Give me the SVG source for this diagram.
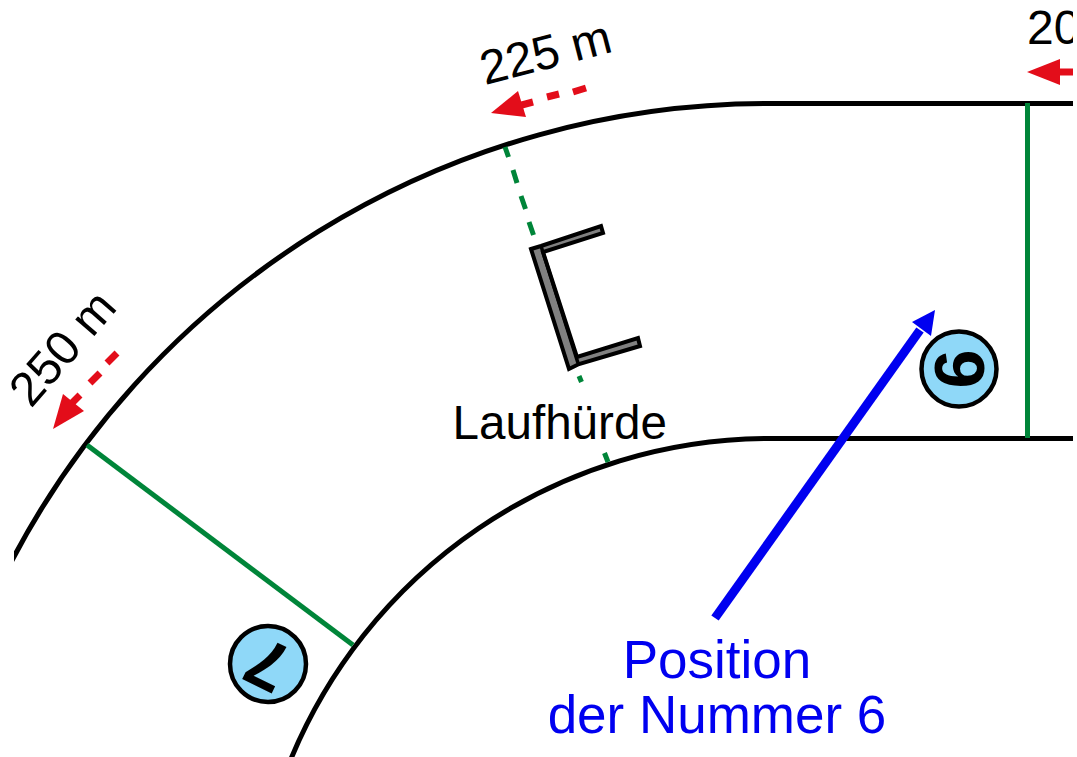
<svg xmlns="http://www.w3.org/2000/svg" width="1077" height="757" viewBox="0 0 1077 757">
<style>
.t{font-family:"Liberation Sans",Arial,sans-serif}
.b{fill:none;stroke:#000;stroke-width:5}
.g{fill:none;stroke:#008539;stroke-width:5}
.r{fill:none;stroke:#e30d1a;stroke-width:7}
.rh{fill:#e30d1a}
.c{fill:#8fd8f8;stroke:#000;stroke-width:4.500}
.n{font-weight:bold;font-size:70px;text-anchor:middle}
.lab{font-size:48px;fill:#000}
.bl{font-size:53px;fill:#0000f0;text-anchor:middle}
</style>
<defs><clipPath id="cl"><rect x="14" y="0" width="1059" height="757"/></clipPath></defs>
<rect width="1077" height="757" fill="#fff"/>
<g id="connectors" clip-path="url(#cl)">
<path class="b" d="M1073 103.500H768A854 854 0 0 0 4 576"/>
<path class="b" d="M1073 438.500H768A519 519 0 0 0 288.500 765"/>
<path class="g" d="M1027.500 103V438"/>
<path class="g" d="M87 445L353 645"/>
<path class="g" d="M505 147L508.500 157M513 170L517 183M521 196L525.500 209M529 222L533.500 235M579 376L581.500 382M604.500 453L608 462"/>
<path d="M715 618L920 330" fill="none" stroke="#0000f0" stroke-width="9"/>
<path d="M935 310L912 322L931 336Z" fill="#0000f0"/>
<path class="r" d="M533 102L518 106M547 97L559 94M573 92L586 88"/>
<path class="rh" d="M491 113L518 91L526 117Z"/>
<path class="r" d="M80 395L70 405M90 383L100 373M107 363L117 353"/>
<path class="rh" d="M53 429L63 394L84 411Z"/>
<path class="r" d="M1073 72H1055"/>
<path class="rh" d="M1027 72L1060 59V85Z"/>
</g>
<g id="hurdle">
<path d="M531 249L541 246L601 226L603 233L543 252L577 357L638 338L640 346L579 364L569 369Z" fill="#808080" stroke="#000" stroke-width="4" stroke-linejoin="miter"/>
<path d="M541 246L578 363" fill="none" stroke="#000" stroke-width="3.500"/>
</g>
<g id="node-6">
<circle class="c" cx="959" cy="369" r="37.500"/>
<text class="t n" transform="translate(984 369) rotate(-90)">6</text>
</g>
<g id="node-7">
<circle class="c" cx="268" cy="664" r="38"/>
<text class="t n" transform="translate(278 643) rotate(-154)">7</text>
</g>
<g id="labels">
<text class="t lab" transform="translate(485 85) rotate(-14.500)">225 m</text>
<text class="t lab" transform="translate(31 409) rotate(-49)">250 m</text>
<g clip-path="url(#cl)"><text class="t lab" x="1027" y="44">20</text></g>
<text class="t" x="452.500" y="439" font-size="47.600">Laufhürde</text>
<text class="t bl" x="717" y="678">Position</text>
<text class="t bl" x="717" y="733">der Nummer 6</text>
</g>
</svg>
